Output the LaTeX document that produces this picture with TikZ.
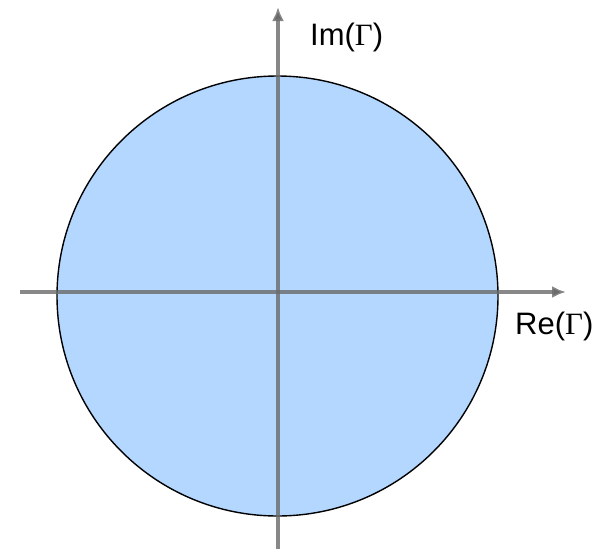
\documentclass[tikz,border=0pt]{standalone}
\usepackage{fontspec}
\setmainfont{Liberation Sans}
\newfontfamily\gammafont{Liberation Serif}
\usetikzlibrary{arrows.meta}
\definecolor{diskblue}{HTML}{B3D7FF}
\definecolor{axisgray}{HTML}{6A6A6A}
\tikzset{
  axis/.style={draw=axisgray, draw opacity=0.8, line width=3.5pt, -{Latex[length=14pt,width=12pt]}},
  axislabel/.style={anchor=base west, inner sep=0pt, font=\fontsize{31}{35}\selectfont}
}
\newcommand{\GammaSym}{{\gammafont Γ}}
\begin{document}
\begin{tikzpicture}[x=1pt, y=-1pt, line cap=butt, line join=round]
  \useasboundingbox (0,0) rectangle (607,549);
  % disk
  \filldraw[fill=diskblue, draw=black, line width=1.4pt] (277.5,296) ellipse (220.5 and 220);
  % axes
  \coordinate (xstart) at (20,292);
  \coordinate (xend) at (566,292);
  \coordinate (ystart) at (278,549);
  \coordinate (yend) at (278,7);
  \draw[axis] (xstart) -- (xend);
  \draw[axis] (ystart) -- (yend);
  % labels
  \node[axislabel] (relabel) at (515,334) {Re(\GammaSym)};
  \node[axislabel] (imlabel) at (310,45) {Im(\GammaSym)};
\end{tikzpicture}
\end{document}
